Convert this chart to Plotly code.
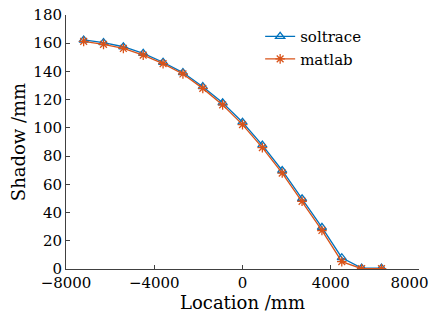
import plotly.graph_objects as go

location = [-7200, -6300, -5400, -4500, -3600, -2700, -1800, -900, 0, 900, 1800, 2700, 3600, 4500, 5400, 6300]
soltrace = [162.3, 160.4, 157.5, 152.8, 146.5, 139.2, 129.2, 117.8, 104.0, 87.8, 69.8, 49.8, 29.5, 8.0, 0.6, 0.6]
matlab = [161.3, 159.2, 156.3, 151.6, 145.5, 138.2, 128.0, 116.3, 102.3, 86.0, 68.0, 48.0, 27.3, 5.2, 0.2, 0.2]

x_ticks = [-8000, -4000, 0, 4000, 8000]
x_labels = ["\u22128000", "\u22124000", "0", "4000", "8000\u00a0\u00a0\u00a0\u00a0"]
y_ticks = [0, 20, 40, 60, 80, 100, 120, 140, 160, 180]

font = "DejaVu Serif"
fig = go.Figure()
fig.add_trace(go.Scatter(x=location, y=soltrace, name="soltrace", mode="lines+markers",
                         line=dict(color="#0072BD", width=1.3),
                         marker=dict(symbol="triangle-up-open", size=8, color="#0072BD", line=dict(width=1.3))))
fig.add_trace(go.Scatter(x=location, y=matlab, name="matlab", mode="lines+markers",
                         line=dict(color="#D95319", width=1.3),
                         marker=dict(symbol="asterisk-open", size=8, color="#D95319", line=dict(width=1.3, color="#D95319"))))

# page body has an 8px default margin, so the figure is sized to the visible area
fig.update_layout(
    width=433, height=317,
    margin=dict(l=58, r=22, t=7, b=56, autoexpand=False),
    plot_bgcolor="white", paper_bgcolor="white",
    font=dict(family=font, size=15, color="black"),
    legend=dict(x=0.55, y=0.98, xanchor="left", yanchor="top", bgcolor="rgba(0,0,0,0)",
                font=dict(family=font, size=15), tracegroupgap=0, itemwidth=30),
    showlegend=True,
)
fig.update_xaxes(range=[-8000, 8000], tickvals=x_ticks, ticktext=x_labels, ticklabeloverflow="allow",
                 showline=True, linecolor="#404040", linewidth=1, ticks="inside", ticklen=4, tickcolor="#404040",
                 showgrid=False, zeroline=False, title=dict(text="Location /mm", standoff=5), automargin=False,
                 tickfont=dict(family=font, size=15))
fig.update_yaxes(range=[0, 180], tickvals=y_ticks, showline=True, linecolor="#404040", linewidth=1,
                 ticks="inside", ticklen=4, tickcolor="#404040", showgrid=False, zeroline=False, automargin=False,
                 ticklabeloverflow="allow",
                 title=dict(text="Shadow /mm", standoff=6), tickfont=dict(family=font, size=15))

fig.write_html("out.html")
